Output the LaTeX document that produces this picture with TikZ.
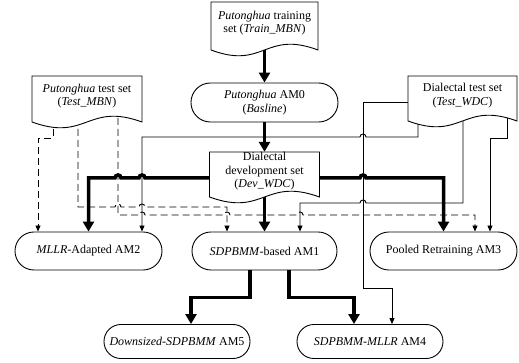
\documentclass[tikz,border=0pt]{standalone}
\usepackage{fontspec}
\setmainfont{Liberation Serif}
\usetikzlibrary{arrows.meta}
\pgfdeclarelayer{bg}
\pgfsetlayers{bg,main}
\newcommand\hopR[2]{-- ({#1-3},#2) .. controls ({#1-3},{#2-4}) and ({#1+3},{#2-4}) .. ({#1+3},#2)}
\newcommand\hopL[2]{-- ({#1+3},#2) .. controls ({#1+3},{#2-4}) and ({#1-3},{#2-4}) .. ({#1-3},#2)}
\newcommand\docnode[6]{%
  \filldraw[docline] ({#2-#4/2},{#3-#5/2}) -- ({#2+#4/2},{#3-#5/2}) -- ({#2+#4/2},{#3+#5/2})
    .. controls (#2,{#3+#5/2-20}) and (#2,{#3+#5/2+20}) .. ({#2-#4/2},{#3+#5/2}) -- cycle;
  \node[doctext,minimum width={#4*1pt},minimum height={(#5-6)*1pt}] (#1) at (#2,{#3-3}) {#6};}
\begin{document}
\begin{tikzpicture}[x=1pt,y=-1pt,
  docline/.style={fill=white,draw=black,line width=0.9pt},
  doctext/.style={align=center,inner sep=0pt,font=\fontsize{12}{13.5}\selectfont},
  am/.style={draw=black,fill=white,line width=0.9pt,rounded corners=18.9pt,inner sep=0pt,
    align=center,font=\fontsize{12}{13.5}\selectfont,minimum height=38pt},
  thk/.style={line width=3.5pt,-{Triangle[length=10pt,width=11pt]}},
  thn/.style={line width=0.9pt,-{Triangle[length=6pt,width=5pt]}},
  dsh/.style={thn,dash pattern=on 7pt off 4pt}]
\useasboundingbox (0,0) rectangle (519,363);
% documents
\docnode{train}{264.5}{26}{107}{48}{\textit{Putonghua} training\\set (\textit{Train\_MBN})}
\docnode{tmbn}{87}{99}{110}{46}{\textit{Putonghua} test set\\(\textit{Test\_MBN})}
\docnode{twdc}{462.5}{98.5}{109}{45}{Dialectal test set\\(\textit{Test\_WDC})}
\docnode{dev}{264.5}{174.5}{110}{45}{Dialectal\\development set\\(\textit{Dev\_WDC})}
% acoustic models
\node[am,minimum width=147pt,minimum height=39pt,rounded corners=19.4pt] (am0) at (264.5,102.5) {\textit{Putonghua} AM0\\(\textit{Basline})};
\node[am,minimum width=145pt] (am1) at (264.5,251) {\textit{SDPBMM}-based AM1};
\node[am,minimum width=147pt] (am2) at (88.5,251) {\textit{MLLR}-Adapted AM2};
\node[am,minimum width=147pt] (am3) at (443.5,251) {Pooled Retraining AM3};
\node[am,minimum width=146pt,minimum height=34pt,rounded corners=16.9pt] (am4) at (370,341.5) {\textit{SDPBMM-MLLR} AM4};
\node[am,minimum width=146pt,minimum height=34pt,rounded corners=16.9pt] (am5) at (177,341.5) {\textit{Downsized-SDPBMM} AM5};
% connectors
\begin{pgfonlayer}{bg}
\draw[thk] (train) -- (am0.north);
\draw[thk] (am0.south) -- (dev.north);
\draw[thk] (dev) -- (am1.north);
\draw[thk] ([yshift=-6.5pt]dev.west) \hopL{142}{178} \hopL{118}{178} -| (am2.north);
\draw[thk] ([yshift=-6.5pt]dev.east) \hopR{363}{178} -| (am3.north);
\draw[thk] ([xshift=-14.5pt]am1.south) -- ++(0,27) -| ([xshift=14pt]am5.north);
\draw[thk] ([xshift=24.5pt]am1.south) -- ++(0,27) -| ([xshift=-16pt]am4.north);
% from Test_WDC
\draw[thn] ([yshift=-6.5pt]twdc.west) -| (363,288) -| ([xshift=22pt]am4.north);
\draw[thn] ([xshift=-44.5pt]twdc.center) -- (418,137) \hopL{363}{137} -| ([xshift=53.5pt]am2.north);
\draw[thn] ([xshift=0.5pt]twdc.center) -- (463,203) \hopL{363}{203} -| ([xshift=35.5pt]am1.north);
\draw[thn] ([xshift=44.5pt]twdc.center) -- (507,138) -| ([xshift=46.5pt]am3.north);
% from Test_MBN
\draw[dsh] ([xshift=-34pt]tmbn.center) -- (53,138) -| ([xshift=-50.5pt]am2.north);
\draw[dsh] ([xshift=-9pt]tmbn.center) -- (78,207) \hopR{118}{207} \hopR{142}{207} -| ([xshift=-37.5pt]am1.north);
\draw[dsh] ([xshift=31pt]tmbn.center) -- (118,215) \hopR{142}{215} \hopR{227}{215} \hopR{300}{215} -| ([xshift=31.5pt]am3.north);
\end{pgfonlayer}
\end{tikzpicture}
\end{document}
